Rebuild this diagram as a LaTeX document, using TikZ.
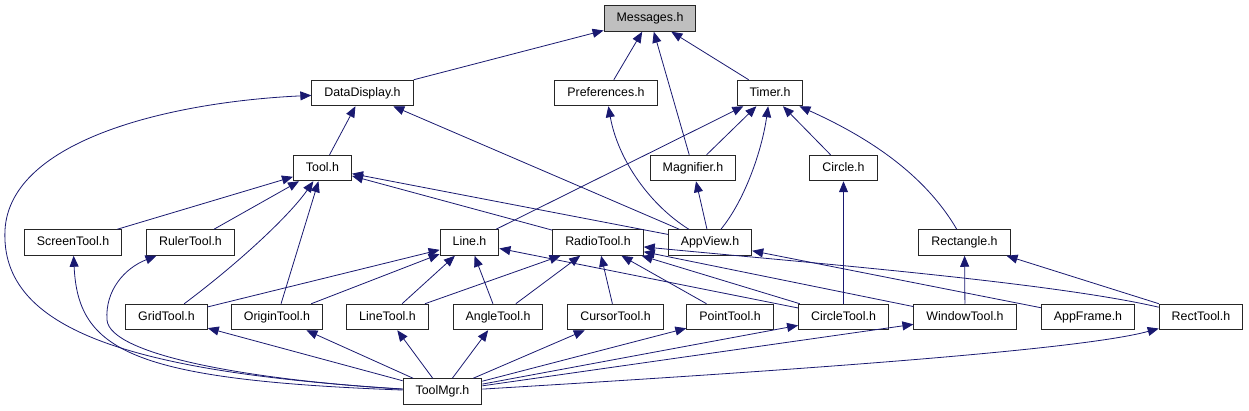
\documentclass[tikz,border=0pt]{standalone}
\usepackage{fontspec}
\setmainfont{Liberation Sans}
\usetikzlibrary{arrows.meta}
\definecolor{edgeblue}{RGB}{25,25,112}
\definecolor{rootgray}{RGB}{191,191,191}

\begin{document}
\begin{tikzpicture}[x=1pt, y=-1pt,
    file/.style={draw=black!85, line width=1pt, fill=white, minimum height=25.5pt,
        inner xsep=12.5pt, inner ysep=0pt, text height=9pt, text depth=2.5pt,
        font=\fontsize{12.4}{14}\selectfont},
    dep/.style={draw=edgeblue, line width=0.8pt, -{Triangle[length=11pt,width=9pt]}}]
    \useasboundingbox (0,0) rectangle (1249,411);

    \node[file, fill=rootgray] (msg) at (650,18.5) {Messages.h};

    \node[file] (datadisp) at (362.5,93) {DataDisplay.h};
    \node[file] (prefs) at (606,93) {Preferences.h};
    \node[file] (timer) at (770,93) {Timer.h};

    \node[file] (tool) at (322.5,168) {Tool.h};
    \node[file] (magnifier) at (693,168) {Magnifier.h};
    \node[file] (circle) at (843.5,168) {Circle.h};

    \node[file] (screentool) at (73,242.5) {ScreenTool.h};
    \node[file] (rulertool) at (190.5,242.5) {RulerTool.h};
    \node[file] (line) at (469.5,242.5) {Line.h};
    \node[file] (radiotool) at (598,242.5) {RadioTool.h};
    \node[file] (appview) at (710,242.5) {AppView.h};
    \node[file] (rectangle) at (964.5,242.5) {Rectangle.h};

    \node[file] (gridtool) at (166.5,317) {GridTool.h};
    \node[file] (origintool) at (277,317) {OriginTool.h};
    \node[file] (linetool) at (387.5,317) {LineTool.h};
    \node[file] (angletool) at (498,317) {AngleTool.h};
    \node[file] (cursortool) at (615.5,317) {CursorTool.h};
    \node[file] (pointtool) at (730,317) {PointTool.h};
    \node[file] (circletool) at (843.5,317) {CircleTool.h};
    \node[file] (windowtool) at (965,317) {WindowTool.h};
    \node[file] (appframe) at (1088,317) {AppFrame.h};
    \node[file] (recttool) at (1201,317) {RectTool.h};

    \node[file] (toolmgr) at (442.5,391.5) {ToolMgr.h};

    % Messages.h
    \draw[dep] (datadisp) -- (msg);
    \draw[dep] (prefs) -- (msg);
    \draw[dep] (magnifier) -- (msg);
    \draw[dep] (timer) -- (msg);

    % DataDisplay.h
    \draw[dep] (tool) -- (datadisp);
    \draw[dep] (appview) -- (datadisp);
    \draw[dep] (toolmgr) .. controls (130,372) and (0,330) .. (5,230)
        .. controls (10,140) and (170,102) .. (datadisp);

    % Preferences.h and Timer.h
    \draw[dep] (appview) .. controls (650,205) and (618,160) .. (prefs);
    \draw[dep] (line) -- (timer);
    \draw[dep] (magnifier) -- (timer);
    \draw[dep] (appview) .. controls (745,200) and (762,150) .. (timer);
    \draw[dep] (circle) -- (timer);
    \draw[dep] (rectangle) .. controls (925,175) and (870,138) .. (timer);

    % Tool.h
    \draw[dep] (screentool) -- (tool);
    \draw[dep] (rulertool) -- (tool);
    \draw[dep] (gridtool) .. controls (240,262) and (290,215) .. (tool);
    \draw[dep] (origintool) -- (tool);
    \draw[dep] (radiotool) -- (tool);
    \draw[dep] (appview) -- (tool);

    \draw[dep] (appview) -- (magnifier);
    \draw[dep] (circletool) -- (circle);

    % Line.h
    \draw[dep] (gridtool) -- (line);
    \draw[dep] (origintool) -- (line);
    \draw[dep] (linetool) -- (line);
    \draw[dep] (angletool) -- (line);
    \draw[dep] (circletool) -- (line);

    % RadioTool.h
    \draw[dep] (linetool) -- (radiotool);
    \draw[dep] (angletool) -- (radiotool);
    \draw[dep] (cursortool) -- (radiotool);
    \draw[dep] (pointtool) -- (radiotool);
    \draw[dep] (circletool) -- (radiotool);
    \draw[dep] (windowtool) -- (radiotool);
    \draw[dep] (recttool) .. controls (1050,282) and (800,262) .. (radiotool);

    \draw[dep] (appframe) -- (appview);
    \draw[dep] (windowtool) -- (rectangle);
    \draw[dep] (recttool) -- (rectangle);

    % ToolMgr.h
    \draw[dep] (toolmgr) .. controls (130,380) and (78,350) .. (screentool);
    \draw[dep] (toolmgr) .. controls (250,380) and (110,355) .. (107,320)
        .. controls (105,290) and (125,268) .. (rulertool);
    \draw[dep] (toolmgr) -- (gridtool);
    \draw[dep] (toolmgr) -- (origintool);
    \draw[dep] (toolmgr) -- (linetool);
    \draw[dep] (toolmgr) -- (angletool);
    \draw[dep] (toolmgr) -- (cursortool);
    \draw[dep] (toolmgr) -- (pointtool);
    \draw[dep] (toolmgr) -- (circletool);
    \draw[dep] (toolmgr) -- (windowtool);
    \draw[dep] (toolmgr) .. controls (800,370) and (1080,350) .. (recttool);
\end{tikzpicture}
\end{document}
